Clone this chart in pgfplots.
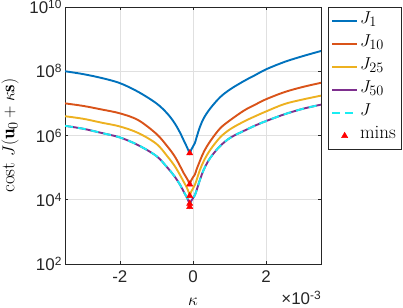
\documentclass[border=0pt]{standalone}
\usepackage{fontspec}
\usepackage{pgfplots}
\pgfplotsset{compat=1.18}
\newfontfamily\tickfont{Liberation Sans}
\definecolor{mblue}{rgb}{0,0.447,0.741}
\definecolor{morange}{rgb}{0.85,0.325,0.098}
\definecolor{myellow}{rgb}{0.929,0.694,0.125}
\definecolor{mpurple}{rgb}{0.494,0.184,0.556}
\definecolor{mcyan}{rgb}{0.1,0.93,0.95}
\definecolor{axgray}{rgb}{0.15,0.15,0.15}
% power-of-ten tick label in the tick font
\newcommand\pten[1]{10\raisebox{5bp}{\fontsize{12}{12}\selectfont#1}}
\pgfplotsset{
  seg legend/.style={legend image code/.code={\draw[##1] (0bp,0bp) -- (25bp,0bp);}},
  tri legend/.style={legend image code/.code={\draw[##1] plot coordinates {(12.5bp,0bp)};}},
  costcurve/.style={line width=1.9bp, smooth, tension=0.55},
}
\begin{document}
\begin{tikzpicture}
\path[use as bounding box] (0,0) rectangle (403bp,308bp);
\begin{axis}[
  at={(65bp,44bp)}, anchor=south west,
  scale only axis, width=256bp, height=257bp,
  xmin=-3.5, xmax=3.5, ymode=log, ymin=1e2, ymax=1e10,
  xtick={-2,0,2}, xticklabels={-2,0,2},
  ytick={1e2,1e4,1e6,1e8,1e10},
  yticklabels={\pten{2},\pten{4},\pten{6},\pten{8},\pten{10}},
  yminorticks=false,
  grid=major, major grid style={black!12, line width=0.5bp},
  tick align=inside, major tick length=3bp,
  tick style={axgray, line width=0.5bp},
  axis line style={axgray, line width=0.6bp},
  ticklabel style={font=\tickfont\fontsize{17}{20}\selectfont, text=axgray},
  xticklabel style={yshift=-3bp},
  xlabel={$\kappa$},
  ylabel={$\mathrm{cost}\ J(\mathbf{u}_0+\kappa\mathbf{s})$},
  label style={font=\fontsize{19}{22}\selectfont},
  xlabel style={at={(axis description cs:0.5,-0.148)}, anchor=center},
  ylabel style={at={(axis description cs:-0.215,0.5)}, anchor=center},
  legend style={at={(axis description cs:1.027,1)}, anchor=north west,
    draw=axgray, line width=0.6bp, fill=white,
    font=\fontsize{19}{22}\selectfont,
    inner xsep=3bp, inner ysep=2bp, row sep=0pt,
    nodes={inner xsep=2bp, inner ysep=0pt, text height=14bp, text depth=9bp}},
  legend cell align=left,
  seg legend,
  % exponent of the kappa axis, below its right end
  extra description/.code={
    \node[anchor=north east, inner sep=0pt, text=axgray,
      font=\tickfont\fontsize{17}{20}\selectfont]
      at (1,-0.105) {×10\raisebox{5bp}{\fontsize{12}{12}\selectfont-3}};
  },
]
\addplot[mblue, costcurve] coordinates {
(-3.5,1.00e8) (-3.0,8.13e7) (-2.5,6.17e7) (-2.0,4.27e7) (-1.5,2.29e7)
(-1.0,1.00e7) (-0.7,4.79e6) (-0.5,2.40e6) (-0.35,1.20e6) (-0.25,6.92e5)
(-0.17,4.47e5) (-0.12,3.31e5) (-0.09,2.75e5) (-0.05,3.55e5) (0.0,4.57e5)
(0.05,5.75e5) (0.1,8.91e5) (0.19,1.86e6) (0.3,3.55e6) (0.47,6.92e6)
(0.74,1.55e7) (1.02,2.75e7) (1.4,5.01e7) (1.7,7.59e7) (2.0,1.15e8)
(2.5,1.95e8) (3.0,2.95e8) (3.5,4.27e8)};
\addlegendentry{$J_1$}
\addplot[morange, costcurve] coordinates {
(-3.5,1.00e7) (-3.0,8.32e6) (-2.5,6.46e6) (-2.0,4.90e6) (-1.5,3.02e6)
(-1.0,1.12e6) (-0.7,4.57e5) (-0.5,2.24e5) (-0.35,1.10e5) (-0.25,6.61e4)
(-0.17,4.68e4) (-0.12,3.63e4) (-0.09,3.02e4) (-0.05,3.98e4) (0.0,5.01e4)
(0.05,6.03e4) (0.1,8.91e4) (0.19,1.62e5) (0.3,3.16e5) (0.47,6.61e5)
(0.74,1.66e6) (1.02,3.02e6) (1.4,6.03e6) (1.7,9.12e6) (2.0,1.35e7)
(2.5,2.24e7) (3.0,3.24e7) (3.5,4.37e7)};
\addlegendentry{$J_{10}$}
\addplot[myellow, costcurve] coordinates {
(-3.5,3.98e6) (-3.0,3.31e6) (-2.5,2.51e6) (-2.0,1.91e6) (-1.5,1.20e6)
(-1.0,5.50e5) (-0.7,2.24e5) (-0.5,1.12e5) (-0.35,5.75e4) (-0.25,3.55e4)
(-0.17,2.40e4) (-0.12,1.74e4) (-0.09,1.35e4) (-0.05,1.78e4) (0.0,2.24e4)
(0.05,2.88e4) (0.1,4.17e4) (0.19,8.51e4) (0.3,1.66e5) (0.47,3.55e5)
(0.74,8.71e5) (1.02,1.58e6) (1.4,2.75e6) (1.7,3.98e6) (2.0,5.62e6)
(2.5,9.55e6) (3.0,1.32e7) (3.5,1.74e7)};
\addlegendentry{$J_{25}$}
\addplot[mpurple, costcurve] coordinates {
(-3.5,2.00e6) (-3.0,1.62e6) (-2.5,1.20e6) (-2.0,8.71e5) (-1.5,5.01e5)
(-1.0,2.29e5) (-0.7,1.00e5) (-0.5,5.25e4) (-0.35,2.88e4) (-0.25,1.74e4)
(-0.17,1.20e4) (-0.12,8.91e3) (-0.09,7.59e3) (-0.05,9.12e3) (0.0,1.12e4)
(0.05,1.38e4) (0.1,2.00e4) (0.19,4.17e4) (0.3,8.91e4) (0.47,2.00e5)
(0.74,4.68e5) (1.02,8.51e5) (1.4,1.41e6) (1.7,2.04e6) (2.0,2.82e6)
(2.5,4.57e6) (3.0,6.76e6) (3.5,9.12e6)};
\addlegendentry{$J_{50}$}
\addplot[mcyan, costcurve, dash pattern=on 8bp off 5bp] coordinates {
(-3.5,2.00e6) (-3.0,1.62e6) (-2.5,1.20e6) (-2.0,8.71e5) (-1.5,5.01e5)
(-1.0,2.29e5) (-0.7,1.00e5) (-0.5,5.25e4) (-0.35,2.88e4) (-0.25,1.74e4)
(-0.17,1.20e4) (-0.12,7.94e3) (-0.09,6.03e3) (-0.05,8.32e3) (0.0,1.12e4)
(0.05,1.38e4) (0.1,2.00e4) (0.19,4.17e4) (0.3,8.91e4) (0.47,2.00e5)
(0.74,4.68e5) (1.02,8.51e5) (1.4,1.41e6) (1.7,2.04e6) (2.0,2.82e6)
(2.5,4.57e6) (3.0,6.76e6) (3.5,9.12e6)};
\addlegendentry{$J$}
\addplot[only marks, mark=triangle*, mark size=3.6bp, red,
  mark options={line width=0.4bp}, tri legend]
  coordinates {(-0.09,2.82e5) (-0.09,3.02e4) (-0.09,1.32e4) (-0.09,7.59e3) (-0.09,6.03e3)};
\addlegendentry{mins}
\end{axis}
\end{tikzpicture}
\end{document}
